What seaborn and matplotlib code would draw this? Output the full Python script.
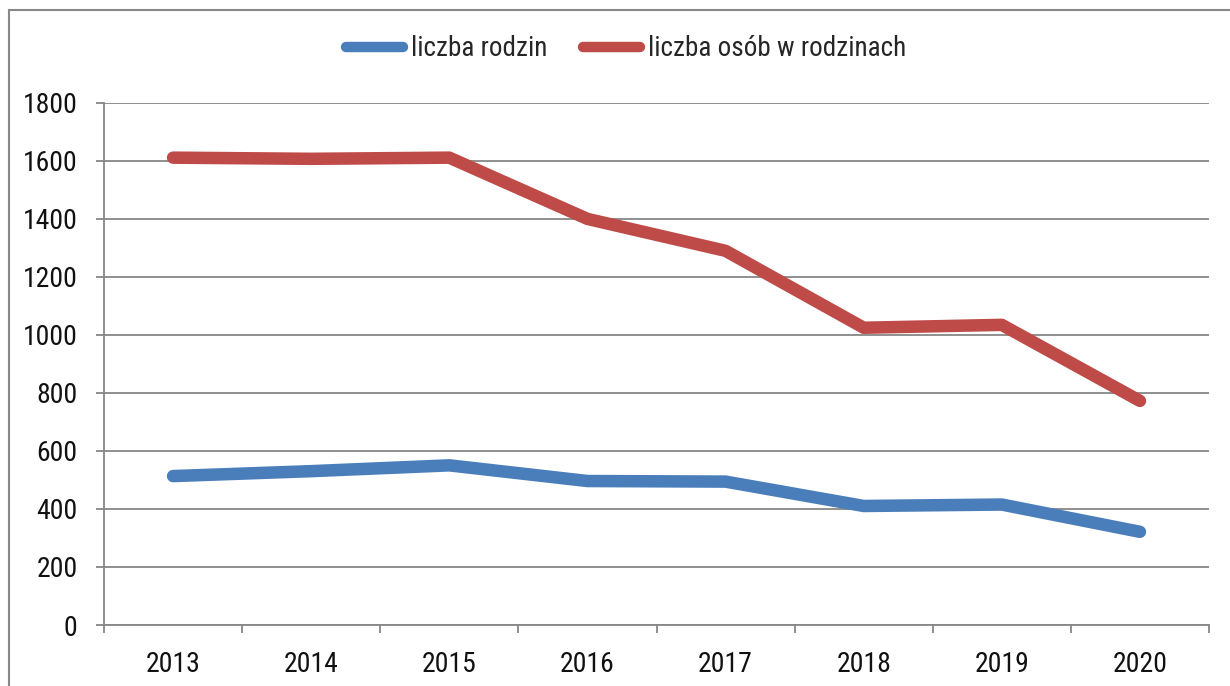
import numpy as np
import pandas as pd
import matplotlib
matplotlib.use("Agg")
import matplotlib.pyplot as plt
import seaborn as sns
from matplotlib.patches import Rectangle

# Data
years = ["2013", "2014", "2015", "2016", "2017", "2018", "2019", "2020"]
liczba_rodzin = [513, 530, 550, 496, 494, 410, 415, 321]
liczba_osob = [1610, 1606, 1610, 1399, 1289, 1024, 1034, 772]
series_names = ["liczba rodzin", "liczba osób w rodzinach"]
colors = ["#4A7EBB", "#BE4B48"]

df = pd.DataFrame({
    "rok": years * 2,
    "wartosc": liczba_rodzin + liczba_osob,
    "seria": [series_names[0]] * len(years) + [series_names[1]] * len(years),
})

sns.set_style("white")
plt.rcParams["font.family"] = ["Liberation Sans Narrow", "Roboto Condensed",
                               "Liberation Sans", "DejaVu Sans"]

FS = 20
W, H = 1230, 686
fig = plt.figure(figsize=(W / 100, H / 100), dpi=100)
ax = fig.add_axes([104 / W, 1 - 625 / H, (1209 - 104) / W, (625 - 102.5) / H])

# outer chart border
fig.patches.append(Rectangle((9 / W, -0.1), 1.2, 1 - 10 / H + 0.1, transform=fig.transFigure,
                             fill=False, edgecolor="#888888", linewidth=1.5, zorder=0))

sns.lineplot(data=df, x="rok", y="wartosc", hue="seria", palette=colors, ax=ax,
             linewidth=9, solid_capstyle="round", legend=True)

ax.set_xlim(-0.5, 7.5)
ax.set_ylim(0, 1800)
ax.set_yticks(np.arange(0, 1801, 200))
ax.set_xticks(np.arange(-0.5, 8, 1))
ax.set_xticklabels([])
ax.set_xticks(range(len(years)), minor=True)
ax.set_xticklabels(years, minor=True)
ax.set_xlabel("")
ax.set_ylabel("")

grid_c = "#878787"
ax.yaxis.grid(True, color=grid_c, linewidth=1.3)
ax.set_axisbelow(True)
for s in ["top", "right"]:
    ax.spines[s].set_visible(False)
for s in ["left", "bottom"]:
    ax.spines[s].set_color(grid_c)
    ax.spines[s].set_linewidth(1.3)

ax.tick_params(axis="y", which="major", left=True, length=6, width=1.3, color=grid_c,
               labelsize=FS, pad=13, labelcolor="#111111")
ax.tick_params(axis="x", which="major", bottom=True, length=6, width=1.3, color=grid_c)
ax.tick_params(axis="x", which="minor", bottom=False, length=0, labelsize=FS, pad=19,
               labelcolor="#111111")

handles, labels = ax.get_legend_handles_labels()
ax.get_legend().remove()
leg = fig.legend(handles, labels, loc="center", bbox_to_anchor=(626 / W, 1 - 49 / H),
                 ncol=2, frameon=False, fontsize=19.5, handlelength=2.1,
                 handletextpad=0.3, columnspacing=1.3)
for h in leg.get_lines():
    h.set_linewidth(7.5)
    h.set_solid_capstyle("round")

fig.savefig("out.png", dpi=100)
